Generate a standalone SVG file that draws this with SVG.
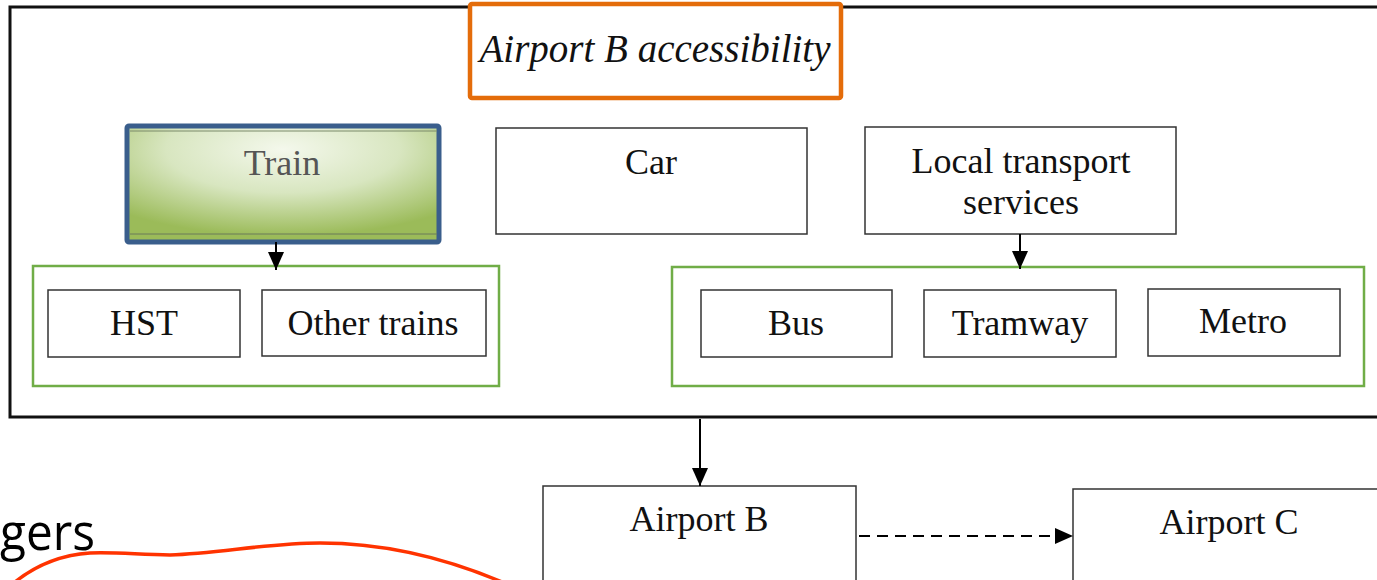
<svg xmlns="http://www.w3.org/2000/svg" width="1377" height="580" viewBox="0 0 1377 580">
<style>
.box{fill:#fff;stroke:#333;stroke-width:1.5}
.grp{fill:none;stroke:#70AD47;stroke-width:2.5}
.t{font-family:"Liberation Serif","Times New Roman",serif;font-size:36px;fill:#111;text-anchor:middle}
.con{stroke:#000;stroke-width:2;fill:none}
</style>
<defs>
<marker id="ah" viewBox="0 0 18 16" refX="18" refY="8" markerWidth="18" markerHeight="16" orient="auto" markerUnits="userSpaceOnUse">
<path d="M0,0 L18,8 L0,16 z" fill="#000"/>
</marker>
<radialGradient id="gr" cx="0.5" cy="0.2" r="0.75">
<stop offset="0" stop-color="#F4F8EC"/>
<stop offset="0.5" stop-color="#D8E6C0"/>
<stop offset="1" stop-color="#9BBB59"/>
</radialGradient>
</defs>
<rect width="1377" height="580" fill="#fff"/>
<g id="outer">
<rect x="10" y="7" width="1380" height="410" fill="none" stroke="#111" stroke-width="3"/>
</g>
<g id="title">
<rect x="470" y="4" width="371" height="94" rx="2" fill="#fff" stroke="#E46C0A" stroke-width="4.5"/>
<text x="655" y="62" class="t" style="font-style:italic;font-size:39px">Airport B accessibility</text>
</g>
<g id="train">
<rect x="127" y="126" width="312" height="116" rx="2" fill="url(#gr)" stroke="#3A5E8C" stroke-width="5"/>
<line x1="130" y1="131" x2="437" y2="131" stroke="#7a8a6a" stroke-width="1"/>
<line x1="130" y1="234" x2="437" y2="234" stroke="#6a7a5a" stroke-width="1"/>
<text x="282" y="175" class="t" style="fill:#555">Train</text>
</g>
<g id="car">
<rect x="496" y="128" width="311" height="106" class="box"/>
<text x="651" y="174" class="t">Car</text>
</g>
<g id="local">
<rect x="865" y="127" width="311" height="107" class="box"/>
<text x="1021" y="173" class="t">Local transport</text>
<text x="1021" y="214" class="t">services</text>
</g>
<g id="traingroup">
<rect x="33" y="266" width="466" height="120" class="grp"/>
</g>
<g id="hst">
<rect x="48" y="290" width="192" height="67" class="box"/>
<text x="144" y="335" class="t">HST</text>
</g>
<g id="othertrains">
<rect x="262" y="290" width="224" height="66" class="box"/>
<text x="373" y="335" class="t">Other trains</text>
</g>
<g id="localgroup">
<rect x="672" y="267" width="692" height="119" class="grp"/>
</g>
<g id="bus">
<rect x="701" y="290" width="191" height="67" class="box"/>
<text x="796" y="335" class="t">Bus</text>
</g>
<g id="tramway">
<rect x="924" y="290" width="192" height="67" class="box"/>
<text x="1020" y="335" class="t">Tramway</text>
</g>
<g id="metro">
<rect x="1148" y="289" width="192" height="67" class="box"/>
<text x="1243" y="333" class="t">Metro</text>
</g>
<g id="airportB">
<rect x="543" y="486" width="313" height="110" class="box"/>
<text x="699" y="531" class="t">Airport B</text>
</g>
<g id="airportC">
<rect x="1073" y="489" width="320" height="110" class="box"/>
<text x="1229" y="534" class="t">Airport C</text>
</g>
<g id="connectors">
<line x1="276" y1="242" x2="276" y2="270" class="con" marker-end="url(#ah)"/>
<line x1="1020" y1="234" x2="1020" y2="269" class="con" stroke-width="1.5" marker-end="url(#ah)"/>
<line x1="700" y1="419" x2="700" y2="486" class="con" marker-end="url(#ah)"/>
<line x1="859" y1="536" x2="1073" y2="536" class="con" stroke-width="2.5" stroke-dasharray="11,7" marker-end="url(#ah)"/>
</g>
<g id="annotation">
<text x="0" y="550" textLength="95" lengthAdjust="spacingAndGlyphs" style="font-family:'Open Sans','Liberation Sans',sans-serif;font-size:52px;fill:#000">gers</text>
<path d="M15,582 C35,566 60,555 90,553 C120,552 140,555 170,555 C220,553 270,543 320,543 C390,543 450,560 502,582" fill="none" stroke="#FF3300" stroke-width="3.5"/>
</g>
</svg>
